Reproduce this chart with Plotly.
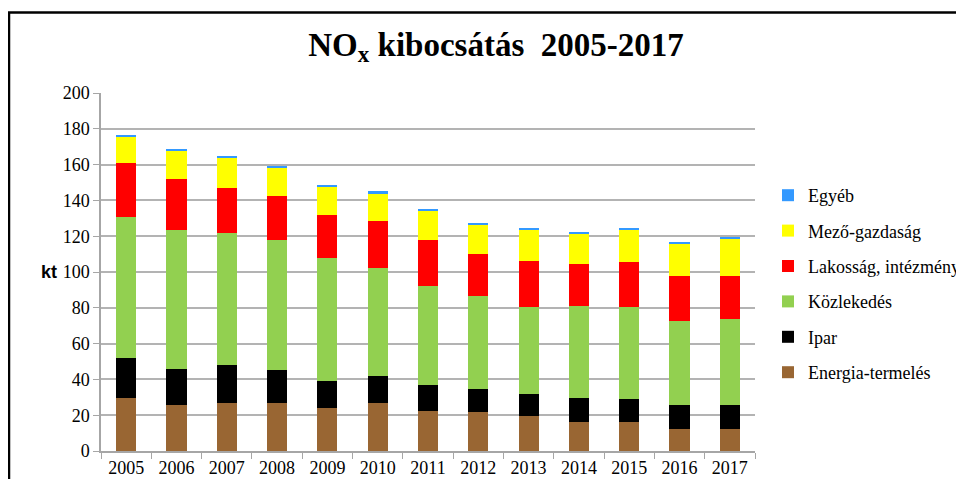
import plotly.graph_objects as go

years = ["2005", "2006", "2007", "2008", "2009", "2010", "2011", "2012", "2013", "2014", "2015", "2016", "2017"]
energia = [29.5, 25.6, 26.7, 26.7, 24.3, 26.7, 22.2, 21.7, 19.6, 16.3, 16.3, 12.5, 12.5]
ipar = [22.3, 20.4, 21.2, 18.5, 15.0, 15.2, 14.4, 13.1, 12.5, 13.2, 12.7, 13.1, 13.1]
kozlekedes = [79.2, 77.2, 74.0, 72.7, 68.7, 60.2, 55.7, 51.6, 48.3, 51.6, 51.4, 47.1, 48.2]
lakossag = [29.7, 28.9, 25.0, 24.3, 23.8, 26.3, 25.6, 23.5, 25.6, 23.6, 25.0, 24.9, 23.8]
mezogazdasag = [15.0, 15.8, 17.0, 15.7, 15.7, 15.7, 16.3, 16.5, 17.7, 17.0, 18.3, 18.3, 20.9]
egyeb = [0.7, 0.7, 1.0, 1.5, 0.7, 0.9, 0.9, 0.7, 0.8, 0.9, 0.8, 0.7, 0.8]

series = [
    ("Energia-termelés", energia, "#996633"),
    ("Ipar", ipar, "#000000"),
    ("Közlekedés", kozlekedes, "#92D050"),
    ("Lakosság, intézmény", lakossag, "#FF0000"),
    ("Mező-gazdaság", mezogazdasag, "#FFFF00"),
    ("Egyéb", egyeb, "#3399FF"),
]

SERIF = "Liberation Serif"

fig = go.Figure()
n = len(series)
for i, (name, vals, col) in enumerate(series):
    fig.add_trace(go.Bar(x=years, y=vals, name=name, marker_color=col,
                         marker_line_width=0, legendgroup=name, legendrank=n - i))

# page has an 8px body margin; work in screen pixels and convert
OFF = 8
W, H = 964, 479
L, R, T, B = 101 - OFF, 964 - 755 + OFF, 93 - OFF, 479 - 451 + OFF
pw, ph = W - L - R, H - T - B

def px_x(p):
    return (p - OFF - L) / pw

def px_y(p):
    return (H - B - (p - OFF)) / ph

fig.update_layout(
    width=W, height=H,
    margin=dict(l=L, r=R, t=T, b=B, autoexpand=False),
    barmode="stack", bargap=0.6,
    plot_bgcolor="white", paper_bgcolor="white",
    font=dict(family=SERIF, color="#000000", size=18),
    title=dict(text="<b>NO<sub>x</sub> kibocsátás  2005-2017</b>",
               x=px_x(496), xref="paper", xanchor="center",
               y=1 - (44 - OFF) / H, yref="container", yanchor="middle",
               font=dict(family=SERIF, size=33, color="#000000")),
    xaxis=dict(showline=True, linecolor="#a6a6a6", linewidth=1.5, automargin=False,
               ticks="outside", tickson="boundaries", ticklen=6, tickcolor="#a6a6a6",
               showgrid=False),
    yaxis=dict(range=[0, 200], dtick=20, showline=True, linecolor="#a6a6a6", linewidth=1.5,
               automargin=False,
               ticks="outside", ticklen=6, tickcolor="#a6a6a6",
               gridcolor="#b3b3b3", gridwidth=1.5, zeroline=False),
    legend=dict(x=px_x(768), y=px_y(177), xanchor="left", yanchor="top",
                traceorder="grouped", tracegroupgap=9,
                font=dict(family=SERIF, size=18, color="#000000"),
                bgcolor="rgba(0,0,0,0)"),
    showlegend=True,
)
fig.update_xaxes(tickfont=dict(family=SERIF, size=18, color="#000000"))
fig.update_yaxes(tickfont=dict(family=SERIF, size=18, color="#000000"))

fig.add_annotation(text="<b>kt</b>", x=px_x(39), y=px_y(272), xref="paper", yref="paper",
                   showarrow=False, font=dict(family="Liberation Sans", size=18, color="#000000"))

fig.add_shape(type="rect", xref="paper", yref="paper",
              x0=px_x(9), x1=px_x(1100), y0=px_y(600), y1=px_y(12.5),
              line=dict(color="#000000", width=2.5), fillcolor="rgba(0,0,0,0)", layer="above")

fig.write_html("out.html")
